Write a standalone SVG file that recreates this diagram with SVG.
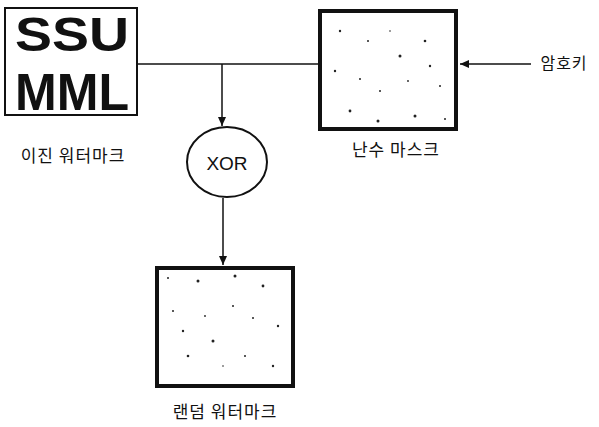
<svg xmlns="http://www.w3.org/2000/svg" width="599" height="427" viewBox="0 0 599 427">
<defs>
<style>
.lbl{font-family:"Noto Sans CJK KR","Noto Sans",sans-serif;font-size:17px;fill:#111;text-anchor:middle;dominant-baseline:central;letter-spacing:1px}
.ln{stroke:#111;stroke-width:1.5;fill:none}
.mask{fill:#fff;stroke:#111;stroke-width:4}
.dot{fill:#222}
</style>
<marker id="ah" markerWidth="10" markerHeight="10" refX="9" refY="5" orient="auto" markerUnits="userSpaceOnUse">
<path d="M0,1 L9,5 L0,9 Z" fill="#111"/>
</marker>
<g id="speck">
<circle class="dot" cx="20" cy="20" r="1.2"/><circle class="dot" cx="48" cy="30" r="1"/><circle class="dot" cx="80" cy="45" r="1.5"/>
<circle class="dot" cx="15" cy="60" r="1.2"/><circle class="dot" cx="60" cy="80" r="1"/><circle class="dot" cx="105" cy="30" r="1.3"/>
<circle class="dot" cx="120" cy="75" r="1"/><circle class="dot" cx="30" cy="100" r="1.4"/><circle class="dot" cx="95" cy="105" r="1.5"/>
<circle class="dot" cx="70" cy="20" r="0.8"/><circle class="dot" cx="40" cy="68" r="1"/><circle class="dot" cx="110" cy="55" r="1.2"/>
<circle class="dot" cx="58" cy="110" r="1.5"/><circle class="dot" cx="125" cy="108" r="1"/><circle class="dot" cx="88" cy="70" r="0.9"/>
</g>
</defs>
<rect width="599" height="427" fill="#fff"/>
<g id="connectors">
<line class="ln" x1="137" y1="64" x2="318" y2="64"/>
<line class="ln" x1="222" y1="64" x2="222" y2="126" marker-end="url(#ah)"/>
<line class="ln" x1="223" y1="198" x2="223" y2="265" marker-end="url(#ah)"/>
<line class="ln" x1="531" y1="64" x2="460" y2="64" marker-end="url(#ah)"/>
</g>
<g id="binary-watermark">
<rect x="5" y="8" width="132" height="107" fill="#fff" stroke="#111" stroke-width="2"/>
<text x="72" y="51" font-family="Liberation Sans, Arial, sans-serif" font-weight="bold" font-size="48" text-anchor="middle" textLength="114" lengthAdjust="spacingAndGlyphs" fill="#111">SSU</text>
<text x="72" y="110" font-family="Liberation Sans, Arial, sans-serif" font-weight="bold" font-size="52" text-anchor="middle" textLength="114" lengthAdjust="spacingAndGlyphs" fill="#111">MML</text>
<text class="lbl" x="73" y="154">이진 워터마크</text>
</g>
<g id="random-mask">
<rect class="mask" x="320" y="11" width="136" height="118"/>
<use href="#speck" x="320" y="11"/>
<text class="lbl" x="396" y="148">난수 마스크</text>
</g>
<g id="key">
<text class="lbl" x="564" y="62" style="font-size:16px">암호키</text>
</g>
<g id="xor">
<ellipse cx="227" cy="162" rx="40" ry="35" fill="#fff" stroke="#111" stroke-width="2"/>
<text x="227" y="163" font-family="Liberation Sans, Arial, sans-serif" font-size="19" text-anchor="middle" dominant-baseline="central" fill="#111">XOR</text>
</g>
<g id="random-watermark">
<rect class="mask" x="157" y="268" width="136" height="118"/>
<use href="#speck" x="157" y="268" transform="rotate(180 225 327)"/>
<text class="lbl" x="225" y="410">랜덤 워터마크</text>
</g>
</svg>
